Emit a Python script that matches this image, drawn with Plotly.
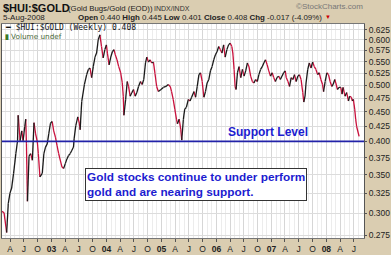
import numpy as np
import pandas as pd
import plotly.graph_objects as go

# ---- data (decimal year, close of $HUI:$GOLD ratio) ----
decimal_years = [
    2002.083, 2002.137, 2002.185, 2002.214, 2002.244, 2002.275, 2002.311, 2002.352, 2002.383, 2002.394,
    2002.430, 2002.460, 2002.484, 2002.514, 2002.532, 2002.545, 2002.563, 2002.592, 2002.622, 2002.653,
    2002.682, 2002.712, 2002.743, 2002.761, 2002.790, 2002.833, 2002.862, 2002.892, 2002.923, 2002.951,
    2002.982, 2003.013, 2003.041, 2003.072, 2003.103, 2003.131, 2003.192, 2003.221, 2003.252, 2003.282,
    2003.311, 2003.342, 2003.372, 2003.401, 2003.412, 2003.443, 2003.479, 2003.510, 2003.522, 2003.551,
    2003.600, 2003.641, 2003.671, 2003.702, 2003.731, 2003.761, 2003.792, 2003.821, 2003.851, 2003.882,
    2003.911, 2003.941, 2003.972, 2004.000, 2004.018, 2004.049, 2004.079, 2004.108, 2004.138, 2004.162,
    2004.192, 2004.223, 2004.259, 2004.288, 2004.306, 2004.318, 2004.349, 2004.378, 2004.402, 2004.431,
    2004.462, 2004.492, 2004.522, 2004.552, 2004.583, 2004.619, 2004.648, 2004.678, 2004.709, 2004.733,
    2004.763, 2004.792, 2004.822, 2004.853, 2004.882, 2004.912, 2004.943, 2004.990, 2005.033, 2005.080,
    2005.123, 2005.159, 2005.183, 2005.213, 2005.242, 2005.272, 2005.290, 2005.321, 2005.350, 2005.368,
    2005.398, 2005.422, 2005.452, 2005.488, 2005.519, 2005.548, 2005.591, 2005.620, 2005.650, 2005.681,
    2005.710, 2005.740, 2005.771, 2005.800, 2005.830, 2005.861, 2005.890, 2005.920, 2005.951, 2005.980,
    2006.010, 2006.041, 2006.070, 2006.100, 2006.130, 2006.159, 2006.190, 2006.220, 2006.249, 2006.280,
    2006.298, 2006.321, 2006.339, 2006.357, 2006.382, 2006.411, 2006.442, 2006.473, 2006.502, 2006.532,
    2006.563, 2006.592, 2006.622, 2006.653, 2006.682, 2006.712, 2006.743, 2006.772, 2006.803, 2006.833,
    2006.862, 2006.892, 2006.923, 2006.952, 2006.983, 2007.013, 2007.042, 2007.072, 2007.103, 2007.132,
    2007.162, 2007.193, 2007.222, 2007.252, 2007.270, 2007.301, 2007.330, 2007.360, 2007.391, 2007.420,
    2007.450, 2007.481, 2007.510, 2007.540, 2007.571, 2007.589, 2007.612, 2007.630, 2007.661, 2007.690,
    2007.720, 2007.751, 2007.780, 2007.810, 2007.841, 2007.870, 2007.900, 2007.931, 2007.949, 2007.978,
    2008.009, 2008.039, 2008.068, 2008.099, 2008.122, 2008.153, 2008.171, 2008.201, 2008.230, 2008.261,
    2008.285, 2008.303, 2008.339, 2008.369, 2008.400, 2008.423, 2008.454, 2008.472, 2008.490, 2008.514,
    2008.532, 2008.550, 2008.594,
]
closes = [
    0.303, 0.301, 0.278, 0.312, 0.325, 0.332, 0.352, 0.381, 0.401, 0.444,
    0.401, 0.417, 0.401, 0.424, 0.437, 0.396, 0.315, 0.377, 0.381, 0.371,
    0.431, 0.412, 0.399, 0.381, 0.347, 0.352, 0.381, 0.391, 0.396, 0.412,
    0.430, 0.433, 0.417, 0.407, 0.393, 0.381, 0.361, 0.359, 0.366, 0.373,
    0.378, 0.381, 0.386, 0.391, 0.404, 0.426, 0.441, 0.429, 0.419, 0.469,
    0.502, 0.522, 0.533, 0.536, 0.516, 0.539, 0.560, 0.569, 0.600, 0.612,
    0.584, 0.558, 0.577, 0.588, 0.569, 0.543, 0.560, 0.572, 0.577, 0.565,
    0.554, 0.539, 0.526, 0.505, 0.479, 0.444, 0.473, 0.508, 0.498, 0.479,
    0.486, 0.492, 0.479, 0.486, 0.498, 0.508, 0.502, 0.512, 0.547, 0.560,
    0.549, 0.554, 0.547, 0.549, 0.524, 0.498, 0.488, 0.492, 0.496, 0.498,
    0.502, 0.498, 0.488, 0.473, 0.455, 0.437, 0.429, 0.437, 0.420, 0.402,
    0.437, 0.455, 0.458, 0.473, 0.470, 0.477, 0.488, 0.477, 0.498, 0.522,
    0.526, 0.508, 0.477, 0.488, 0.505, 0.512, 0.530, 0.539, 0.554, 0.565,
    0.572, 0.584, 0.577, 0.569, 0.588, 0.560, 0.577, 0.588, 0.592, 0.584,
    0.569, 0.533, 0.498, 0.492, 0.526, 0.539, 0.516, 0.533, 0.519, 0.530,
    0.547, 0.539, 0.519, 0.508, 0.505, 0.512, 0.508, 0.522, 0.533, 0.539,
    0.547, 0.554, 0.543, 0.530, 0.519, 0.526, 0.516, 0.508, 0.516, 0.519,
    0.512, 0.519, 0.526, 0.530, 0.516, 0.508, 0.498, 0.516, 0.512, 0.522,
    0.508, 0.519, 0.522, 0.512, 0.486, 0.468, 0.479, 0.505, 0.533, 0.547,
    0.536, 0.549, 0.539, 0.533, 0.522, 0.526, 0.512, 0.502, 0.488, 0.508,
    0.526, 0.522, 0.508, 0.498, 0.502, 0.512, 0.505, 0.492, 0.496, 0.496,
    0.483, 0.496, 0.479, 0.486, 0.470, 0.479, 0.477, 0.470, 0.473, 0.455,
    0.437, 0.424, 0.408,
]
support_level = 0.400
x_range_years = [2002.100, 2008.683]
y_range_values = [0.272, 0.639]
y_tick_values = [0.275, 0.300, 0.325, 0.350, 0.375, 0.400, 0.425, 0.450, 0.475,
                 0.500, 0.525, 0.550, 0.575, 0.600, 0.625]
quarter_labels = {1: None, 4: "A", 7: "J", 10: "O"}

W, H = 391, 255
L, R, T, B = 1, 24, 24, 15
PW, PH = W - L - R, H - T - B


def dy_to_ts(d):
    y = int(np.floor(d))
    s, e = pd.Timestamp(y, 1, 1), pd.Timestamp(y + 1, 1, 1)
    return s + (e - s) * (d - y)


def px(x, y):
    return (x - L) / PW, (H - B - y) / PH


dates = [dy_to_ts(d) for d in decimal_years]

up_x, up_y, dn_x, dn_y = [], [], [], []
for i in range(1, len(dates)):
    if closes[i] >= closes[i - 1]:
        up_x += [dates[i - 1], dates[i], None]
        up_y += [closes[i - 1], closes[i], None]
    else:
        dn_x += [dates[i - 1], dates[i], None]
        dn_y += [closes[i - 1], closes[i], None]

xr = [dy_to_ts(v) for v in x_range_years]

tickvals, ticktext = [], []
for yr in range(2002, 2009):
    for m in (1, 4, 7, 10):
        t = pd.Timestamp(yr, m, 1)
        if xr[0] <= t <= xr[1]:
            tickvals.append(t)
            ticktext.append("<b>%02d</b>" % (yr % 100) if m == 1 else quarter_labels[m])

RED = "#c8103c"
BLUE_LINE = "#2222a8"
BLUE_TXT = "#1c1cd0"

fig = go.Figure()
fig.add_trace(go.Scatter(x=dn_x, y=dn_y, mode="lines", line=dict(color=RED, width=1.3),
                         hoverinfo="skip", showlegend=False))
fig.add_trace(go.Scatter(x=up_x, y=up_y, mode="lines", line=dict(color="#1a1a1a", width=1.3),
                         hoverinfo="skip", showlegend=False))
fig.add_trace(go.Scatter(x=xr, y=[support_level, support_level], mode="lines",
                         line=dict(color=BLUE_LINE, width=1.6), hoverinfo="skip", showlegend=False))

anns = []


def add_text(x, y, text, size, color="#111", family="Liberation Sans, Arial", xanchor="left",
             yanchor="middle", **kw):
    ax, ay = px(x, y)
    anns.append(dict(x=ax, y=ay, xref="paper", yref="paper", text=text, showarrow=False,
                     xanchor=xanchor, yanchor=yanchor, borderpad=0,
                     font=dict(size=size, color=color, family=family), **kw))


add_text(1, 8, "<b>$HUI:$GOLD</b>", 11)
add_text(67, 8, "(Gold Bugs/Gold (EOD))", 7.8, color="#222")
add_text(154, 8.5, "INDX/INDX", 7, color="#333")
add_text(367, 6.5, "©StockCharts.com", 8, color="#777", xanchor="right")
add_text(1, 17, "5-Aug-2008", 8, color="#222")
add_text(77, 17, "<b>Open</b> 0.440 <b>High</b> 0.445 <b>Low</b> 0.401 <b>Close</b> 0.408 <b>Chg</b> -0.017 (-4.09%)",
         7.9, color="#222")
add_text(327, 17, "▼", 6, color="#cc0000")
add_text(3, 28, "━ $HUI:$GOLD (Weekly) 0.408", 8, color="#111", family="DejaVu Sans Mono, monospace")
add_text(3, 36.5, "<b>▮</b>", 6.5, color="#3a7a2a")
add_text(9, 36.5, "Volume undef", 7.3, color="#4a6a3a", family="DejaVu Sans, Verdana")
add_text(270, 133, "<b>Support Level</b>", 12, color=BLUE_TXT, xanchor="center")
ax_, ay_ = px(197, 185.5)
anns.append(dict(x=ax_, y=ay_, xref="paper", yref="paper",
                 text="<b>Gold stocks continue to under perform<br>gold and are nearing support.</b>",
                 showarrow=False, xanchor="center", yanchor="middle", align="left",
                 font=dict(size=11.8, color=BLUE_TXT, family="Liberation Sans, Arial"),
                 bgcolor="white", bordercolor="#333", borderwidth=1, borderpad=1))

fig.update_layout(
    width=W, height=H,
    margin=dict(l=L, r=R, t=T, b=B),
    paper_bgcolor="#dacdb1",
    plot_bgcolor="white",
    annotations=anns,
    xaxis=dict(
        type="date", range=xr, tickmode="array", tickvals=tickvals, ticktext=ticktext,
        ticks="outside", ticklen=3, tickcolor="#555",
        tickfont=dict(size=8.5, color="#222", family="Liberation Sans, Arial"),
        showgrid=True, gridcolor="#d6d6d6", gridwidth=1,
        minor=dict(tickmode="linear", dtick="M1", tick0="2002-01-01", showgrid=True,
                   gridcolor="#ececec", gridwidth=1),
        showline=True, linecolor="#777", linewidth=1, mirror=True, zeroline=False,
    ),
    yaxis=dict(
        type="log", side="right",
        range=[np.log10(y_range_values[0]), np.log10(y_range_values[1])],
        tickmode="array", tickvals=y_tick_values, ticktext=["%.3f" % v for v in y_tick_values],
        ticks="outside", ticklen=2, tickcolor="#555",
        tickfont=dict(size=8.5, color="#222", family="Liberation Sans, Arial"),
        showgrid=True, gridcolor="#dcdcdc", gridwidth=1,
        showline=True, linecolor="#555", linewidth=1, mirror=True, zeroline=False,
    ),
)

fig.write_html("out.html")
